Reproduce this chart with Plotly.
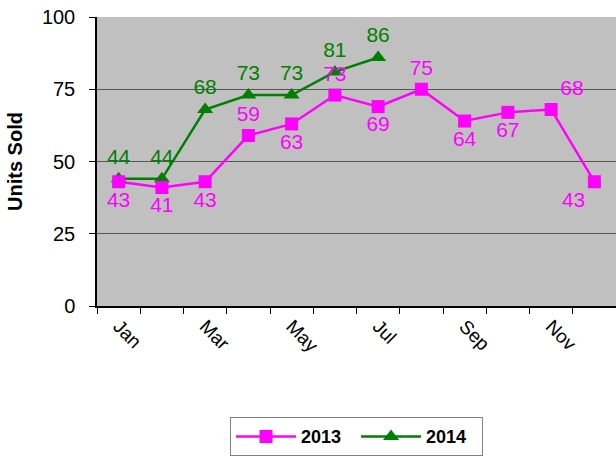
import plotly.graph_objects as go

months = ["Jan", "Feb", "Mar", "Apr", "May", "Jun", "Jul", "Aug", "Sep", "Oct", "Nov", "Dec"]
tick_labels = ["Jan", "", "Mar", "", "May", "", "Jul", "", "Sep", "", "Nov", ""]
sales_2013 = [43, 41, 43, 59, 63, 73, 69, 75, 64, 67, 68, 43]
sales_2014 = [44, 44, 68, 73, 73, 81, 86]
pos_2013 = ["bottom center", "bottom center", "bottom center", "top center", "bottom center",
            "top center", "bottom center", "top center", "bottom center", "bottom center",
            "top right", "bottom left"]
pos_2014 = ["top center"] * 7

fig = go.Figure()
fig.add_trace(go.Scatter(
    x=months[:len(sales_2014)], y=sales_2014, name="<b>2014</b>  ",
    mode="lines+markers+text", text=[str(v) for v in sales_2014], textposition=pos_2014,
    textfont=dict(color="#008000", size=21, family="Arial"),
    line=dict(color="#008000", width=2.5),
    marker=dict(symbol="triangle-up", size=14, color="#008000"),
    cliponaxis=False,
))
fig.add_trace(go.Scatter(
    x=months, y=sales_2013, name="<b>2013</b>  ",
    mode="lines+markers+text", text=[str(v) for v in sales_2013], textposition=pos_2013,
    textfont=dict(color="#FF00FF", size=21, family="Arial"),
    line=dict(color="#FF00FF", width=2.5),
    marker=dict(symbol="square", size=13, color="#FF00FF"),
    cliponaxis=False,
))

fig.update_layout(
    width=616, height=459,
    margin=dict(l=97, r=0, t=17, b=153, autoexpand=False),
    paper_bgcolor="white", plot_bgcolor="#C0C0C0",
    font=dict(family="Arial", size=18, color="black"),
    showlegend=True,
    legend=dict(orientation="h", x=0.5, xanchor="center", y=-0.385, yanchor="top",
                traceorder="reversed", itemwidth=60,
                font=dict(size=18, family="Arial", color="black"),
                bordercolor="#808080", borderwidth=1, bgcolor="white"),
    xaxis=dict(type="category", categoryorder="array", categoryarray=months,
               range=[-0.5, 11.5], tickmode="array", tickvals=months, ticktext=tick_labels,
               tickson="boundaries", ticks="outside", ticklen=6, tickcolor="black",
               tickangle=45, showline=True, linecolor="black", linewidth=1.5,
               showgrid=False, tickfont=dict(size=19), automargin=False),
    yaxis=dict(range=[0, 100], tickvals=[0, 25, 50, 75, 100], ticks="outside", ticklen=6,
               tickcolor="black", showline=True, linecolor="black", linewidth=1.5,
               showgrid=True, gridcolor="#555555", gridwidth=1, zeroline=False,
               tickfont=dict(size=20), automargin=False, ticklabelstandoff=10,
               title=dict(text="<b>Units Sold</b>", font=dict(size=20), standoff=14)),
)

fig.write_html("out.html", config={"displayModeBar": False},
               post_script="document.body.style.margin='0';document.body.style.overflow='hidden';")
